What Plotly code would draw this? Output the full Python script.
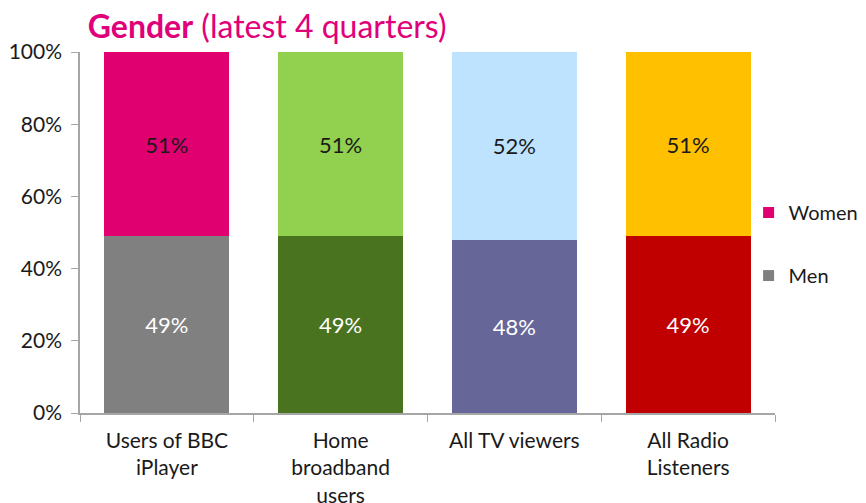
import plotly.graph_objects as go

categories = ["Users of BBC<br>iPlayer", "Home<br>broadband<br>users", "All TV viewers", "All Radio<br>Listeners"]
men = [49, 49, 48, 49]
women = [51, 51, 52, 51]
men_colors = ["#808080", "#4A7320", "#666699", "#C00000"]
women_colors = ["#E0006F", "#92D050", "#BDE3FF", "#FFC000"]

font_family = "Lato, 'Open Sans', sans-serif"

fig = go.Figure()

fig.add_trace(go.Bar(
    x=categories, y=men, name="Men",
    marker=dict(color=men_colors, line=dict(width=0)),
    text=[f"{v}%" for v in men], textposition="inside", insidetextanchor="middle",
    textfont=dict(color="white", size=22, family=font_family),
    showlegend=False, hoverinfo="skip",
))
fig.add_trace(go.Bar(
    x=categories, y=women, name="Women",
    marker=dict(color=women_colors, line=dict(width=0)),
    text=[f"{v}%" for v in women], textposition="inside", insidetextanchor="middle",
    textfont=dict(color="#1a1a1a", size=22, family=font_family),
    showlegend=False, hoverinfo="skip",
))

# legend entries (Women on top)
fig.add_trace(go.Scatter(
    x=[None], y=[None], mode="markers", name="Women", legendgroup="w",
    marker=dict(symbol="square", size=11, color="#E0006F"),
))
fig.add_trace(go.Scatter(
    x=[None], y=[None], mode="markers", name="Men", legendgroup="m",
    marker=dict(symbol="square", size=11, color="#808080"),
))

# page body adds an 8px margin, so the figure is a little smaller than the window
fig.update_layout(
    barmode="stack",
    bargap=0.28,
    width=858, height=495,
    margin=dict(l=72, r=91, t=44, b=90, autoexpand=False),
    plot_bgcolor="white", paper_bgcolor="white",
    font=dict(family=font_family, color="#1a1a1a", size=20),
    title=dict(
        text="<b>Gender</b> (latest 4 quarters)",
        font=dict(size=32, color="#E0007A", family=font_family),
        x=0.093, xanchor="left", y=0.962, yanchor="middle",
    ),
    legend=dict(
        x=0.962, xanchor="left", y=0.468, yanchor="middle",
        font=dict(size=20, color="#1a1a1a"),
        tracegroupgap=34, itemwidth=30,
        bgcolor="rgba(0,0,0,0)",
    ),
    xaxis=dict(
        showline=True, linecolor="#A6A6A6", linewidth=1.5,
        ticks="outside", tickson="boundaries", tickcolor="#A6A6A6", ticklen=7,
        showgrid=False, tickfont=dict(size=21), ticklabelstandoff=8,
    ),
    yaxis=dict(
        range=[0, 100], dtick=20, ticksuffix="%",
        showline=True, linecolor="#A6A6A6", linewidth=1.5,
        ticks="outside", tickcolor="#A6A6A6", ticklen=7,
        showgrid=False, zeroline=False, tickfont=dict(size=21), ticklabelstandoff=5,
    ),
    shapes=[dict(
        type="line", xref="paper", yref="paper",
        x0=-0.113, x1=-0.113, y0=-0.3, y1=1.2,
        line=dict(color="#D9D9D9", width=2),
    )],
)

fig.write_html("out.html")
